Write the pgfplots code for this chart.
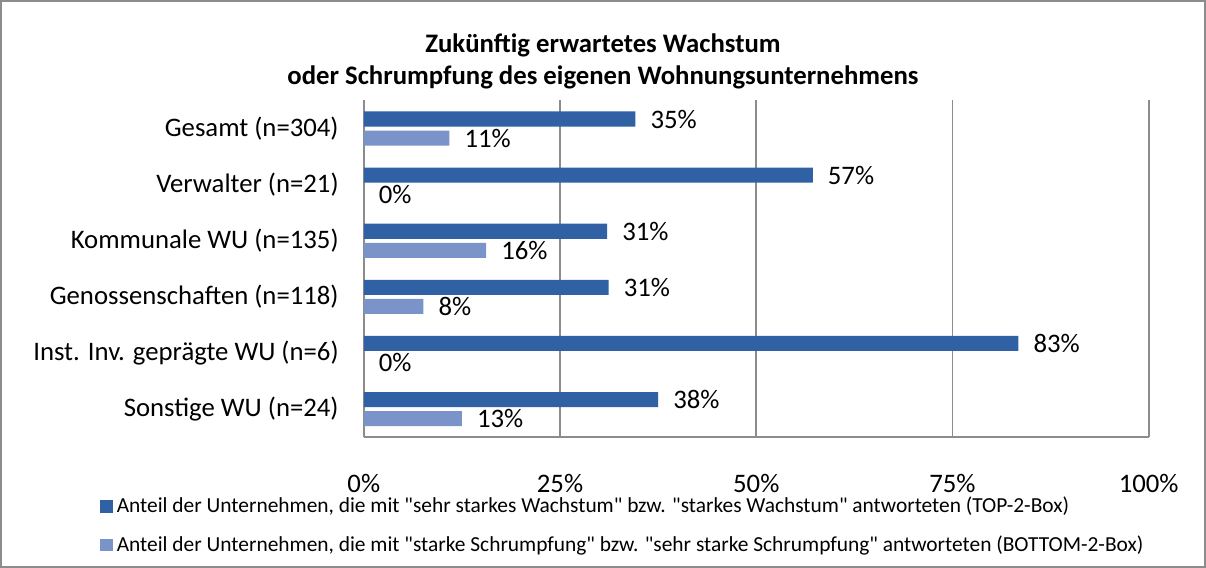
\documentclass[border=0pt]{standalone}
\usepackage{fontspec}
\setmainfont{Carlito}[Ligatures=TeXOff]
\usepackage{pgfplots}
\pgfplotsset{compat=1.18}
\definecolor{cTop}   {HTML}{2F61A4}
\definecolor{cBottom}{HTML}{7A94C9}
\definecolor{cFrame} {HTML}{8C8C8C}
\newcommand{\lbl}{\fontsize{13.3}{16}\selectfont}

\begin{document}
\begin{tikzpicture}
\begin{axis}[
  at={(0,0)}, anchor=south west,
  scale only axis, width=390.5pt, height=167.5pt,
  xbar, bar width=7.5pt,
  xmin=0, xmax=100, ymin=-0.5, ymax=5.5,
  ytick={0,...,5},
  yticklabels={
    {Sonstige WU (n=24)},
    {Inst. Inv. geprägte WU (n=6)},
    {Genossenschaften (n=118)},
    {Kommunale WU (n=135)},
    {Verwalter (n=21)},
    {Gesamt (n=304)}
  },
  xtick={0,25,50,75,100},
  xticklabel={\pgfmathprintnumber{\tick}\%},
  /pgf/number format/assume math mode=true,
  xmajorgrids,
  grid style={draw=cFrame, line width=0.8pt},
  axis x line*=bottom, axis y line*=left,
  axis line style={draw=cFrame, line width=0.8pt, -},
  major tick length=0pt,
  tick label style={font=\lbl},
  xticklabel style={yshift=-15pt},
  yticklabel style={xshift=-9pt},
  point meta=explicit symbolic,
  nodes near coords={\pgfplotspointmeta\%},
  nodes near coords style={font=\lbl, anchor=west, xshift=4pt},
  legend style={at={(-0.337,-0.165)}, anchor=north west, draw=none, fill=none,
    font=\fontsize{10.65}{12.5}\selectfont, row sep=6pt, inner sep=0pt},
  legend cell align=left,
  reverse legend,
]
%% BOTTOM-2-Box (light)
\addplot[draw=none, fill=cBottom,
  legend image code/.code={\fill[cBottom] (0pt,-3pt) rectangle (6.5pt,3pt);}]
  coordinates {
  (12.5,0) [13]
  (0,1)    [0]
  (7.6,2)  [8]
  (15.6,3) [16]
  (0,4)    [0]
  (10.9,5) [11]
};
\addlegendentry{Anteil der Unternehmen, die mit "starke Schrumpfung" bzw. "sehr starke Schrumpfung" antworteten (BOTTOM-2-Box)}

%% TOP-2-Box (dark)
\addplot[draw=none, fill=cTop,
  legend image code/.code={\fill[cTop] (0pt,-3pt) rectangle (6.5pt,3pt);}]
  coordinates {
  (37.5,0) [38]
  (83.4,1) [83]
  (31.2,2) [31]
  (31.0,3) [31]
  (57.2,4) [57]
  (34.6,5) [35]
};
\addlegendentry{Anteil der Unternehmen, die mit "sehr starkes Wachstum" bzw. "starkes Wachstum" antworteten (TOP-2-Box)}
\end{axis}
\node[font=\bfseries\lbl, align=center] at (119pt,187pt)
  {Zukünftig erwartetes Wachstum\\oder Schrumpfung des eigenen Wohnungsunternehmens};
\draw[cFrame, line width=1pt] (-180.5pt,-64.5pt) rectangle (418.5pt,217pt);
\end{tikzpicture}
\end{document}
